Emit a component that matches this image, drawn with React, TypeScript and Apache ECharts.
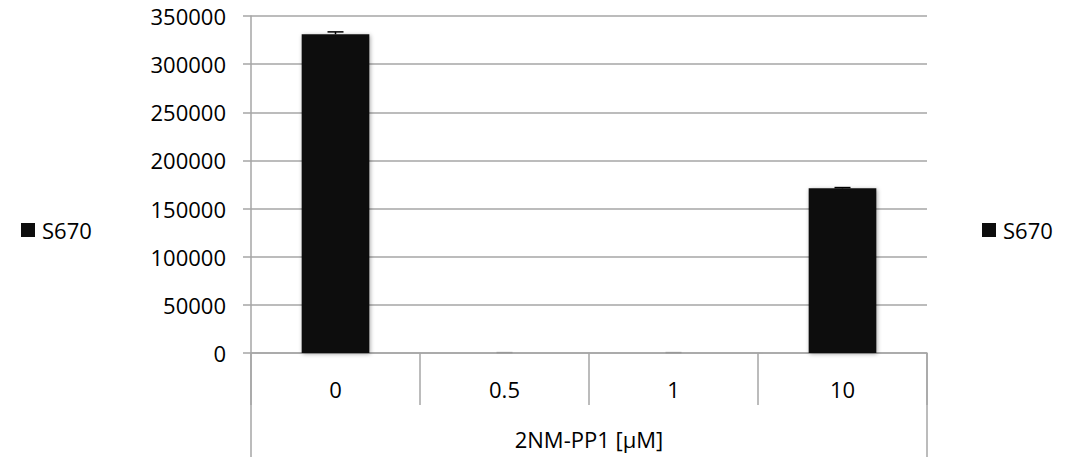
import React, { useEffect, useRef } from "react";
import * as echarts from "echarts";

const categories = ["0", "0.5", "1", "10"];
const seriesName = "S670";
const values = [331000, 0, 0, 171000];
const errors = [2500, 400, 400, 800];
const yTicks = { min: 0, max: 350000, interval: 50000 };
const axisTitle = "2NM-PP1 [µM]";

const FONT = "'Open Sans', sans-serif";
const FS = 22;
const GRID = { left: 251, right: 144, top: 16, bottom: 104 };

export default function App() {
  const ref = useRef<HTMLDivElement>(null);
  useEffect(() => {
    if (!ref.current) return;
    const chart = echarts.init(ref.current, undefined, { renderer: "svg" });
    const W = 1071;
    const H = 457;
    const plotBottom = H - GRID.bottom;
    const plotRight = W - GRID.right;
    const legendBase = {
      top: 214,
      orient: "vertical",
      icon: "rect",
      itemWidth: 14,
      itemHeight: 14,
      itemGap: 6,
      data: [seriesName],
      textStyle: { fontSize: FS, color: "#000", fontFamily: FONT, padding: [0, 0, 0, 2] },
      selectedMode: false,
    };
    chart.setOption({
      animation: false,
      textStyle: { fontFamily: FONT },
      grid: {
        left: GRID.left,
        right: GRID.right,
        top: GRID.top,
        bottom: GRID.bottom,
        containLabel: false,
        outerBoundsMode: "none",
      },
      legend: [
        { ...legendBase, left: 16 },
        { ...legendBase, left: 977 },
      ],
      xAxis: {
        type: "category",
        data: categories,
        boundaryGap: true,
        axisLine: { show: true, lineStyle: { color: "#a6a6a6", width: 1.5 } },
        axisTick: { show: true, interval: 0, length: 52, lineStyle: { color: "#a6a6a6", width: 1.5 } },
        axisLabel: { fontSize: FS, color: "#000", margin: 25, fontFamily: FONT },
        name: axisTitle,
        nameLocation: "middle",
        nameGap: 75,
        nameTextStyle: { fontSize: FS, color: "#000", fontFamily: FONT },
        splitLine: { show: false },
      },
      yAxis: {
        type: "value",
        min: yTicks.min,
        max: yTicks.max,
        interval: yTicks.interval,
        axisLine: { show: true, lineStyle: { color: "#a6a6a6", width: 1.5 } },
        axisTick: { show: true, length: 8, lineStyle: { color: "#a6a6a6", width: 1.5 } },
        axisLabel: {
          fontSize: FS,
          color: "#000",
          margin: 25,
          fontFamily: FONT,
          formatter: (v: number) => String(v),
        },
        splitLine: { show: true, lineStyle: { color: "#a6a6a6", width: 1.5 } },
      },
      graphic: [
        {
          type: "line",
          shape: { x1: GRID.left, y1: plotBottom, x2: GRID.left, y2: H },
          style: { stroke: "#a6a6a6", lineWidth: 1.5 },
        },
        {
          type: "line",
          shape: { x1: plotRight, y1: plotBottom, x2: plotRight, y2: H },
          style: { stroke: "#a6a6a6", lineWidth: 1.5 },
        },
      ],
      series: [
        {
          name: seriesName,
          type: "bar",
          data: values,
          barWidth: "40%",
          itemStyle: {
            color: "#0d0d0d",
            shadowColor: "rgba(0,0,0,0.35)",
            shadowBlur: 4,
            shadowOffsetX: 1,
            shadowOffsetY: 1,
          },
        },
        {
          name: "err",
          type: "custom",
          data: values.map((v, i) => [i, v, errors[i]]),
          z: 5,
          renderItem: (params: any, api: any) => {
            const i = api.value(0);
            const v = api.value(1);
            const e = api.value(2);
            const top = api.coord([i, v + e]);
            const bot = api.coord([i, v]);
            const hw = 8;
            return {
              type: "group",
              children: [
                {
                  type: "line",
                  shape: { x1: top[0], y1: top[1], x2: bot[0], y2: bot[1] },
                  style: { stroke: "#000", lineWidth: 1.5 },
                },
                {
                  type: "line",
                  shape: { x1: top[0] - hw, y1: top[1], x2: top[0] + hw, y2: top[1] },
                  style: { stroke: v > 0 ? "#000" : "#999", lineWidth: 1.5 },
                },
              ],
            };
          },
        },
      ],
    });
    return () => chart.dispose();
  }, []);
  return <div ref={ref} style={{ width: 1071, height: 457, position: "absolute", left: 0, top: 0 }} />;
}
